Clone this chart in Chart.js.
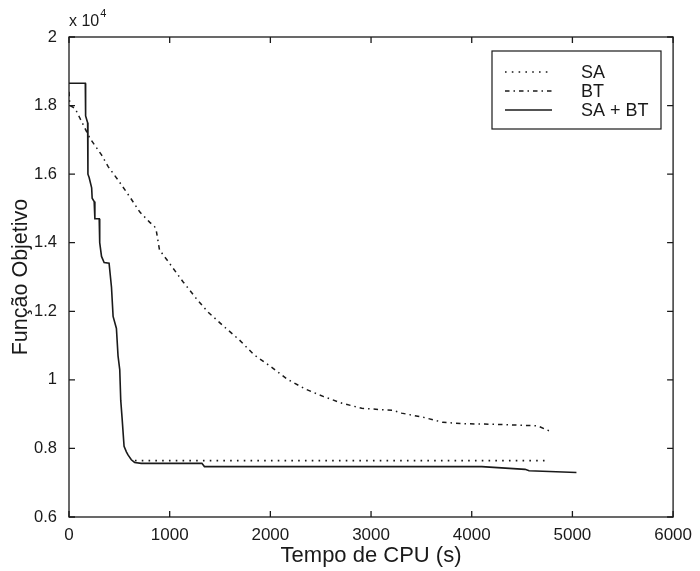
<!DOCTYPE html>
<html><head><meta charset="utf-8">
<script src="https://cdn.jsdelivr.net/npm/chart.js@4.4.0/dist/chart.umd.min.js"></script>
<style>html,body{margin:0;padding:0;background:#fff}#wrap{width:700px;height:571px}</style>
</head><body><div id="wrap"><canvas id="c" width="700" height="571"></canvas></div>
<script>
// ---- data (CPU time in s, objective value) ----
const saTime   = [655, 4740];
const saValue  = [7645, 7645];

const btTime  = [0, 8, 60, 109, 207, 323, 389, 487, 603, 702, 800, 850, 866, 899, 998, 1130, 1262, 1376, 1541, 1690, 1838, 2003, 2167, 2348, 2530, 2711, 2908, 3007, 3221, 3303, 3518, 3715, 3930, 4127, 4358, 4555, 4654, 4770];
const btValue = [18400, 18000, 17920, 17630, 17050, 16560, 16220, 15830, 15340, 14900, 14600, 14470, 14370, 13790, 13400, 12870, 12380, 11990, 11550, 11170, 10730, 10390, 10020, 9730, 9510, 9320, 9170, 9150, 9110, 9030, 8910, 8760, 8720, 8710, 8690, 8670, 8660, 8510];

const sabtTime  = [0, 162, 165, 185, 188, 200, 225, 230, 250, 257, 300, 305, 323, 349, 398, 422, 438, 471, 487, 504, 514, 527, 547, 570, 586, 619, 652, 718, 1320, 1345, 4100, 4530, 4570, 5040];
const sabtValue = [18650, 18650, 17700, 17500, 16000, 15900, 15600, 15300, 15200, 14700, 14700, 14000, 13600, 13420, 13400, 12700, 11850, 11500, 10700, 10300, 9400, 8900, 8060, 7900, 7810, 7670, 7590, 7565, 7565, 7470, 7470, 7390, 7350, 7300];

const seriesNames = ['SA', 'BT', 'SA + BT'];
const xTitle = 'Tempo de CPU (s)';
const yTitle = 'Função Objetivo';
const yScaleFactor = 10000;

const pts = (t, v) => t.map((x, i) => ({x: x, y: v[i]}));
const FONT = '"Liberation Sans", Arial, Helvetica, sans-serif';
const INK = '#1a1a1a';

const framePlugin = {
  id: 'frame',
  afterDraw(chart) {
    const {ctx, chartArea: a, scales} = chart;
    ctx.save();
    ctx.strokeStyle = INK;
    ctx.lineWidth = 1.3;
    ctx.strokeRect(a.left, a.top, a.right - a.left, a.bottom - a.top);
    const L = 6;
    ctx.beginPath();
    scales.x.ticks.forEach(t => {
      const px = scales.x.getPixelForValue(t.value);
      ctx.moveTo(px, a.bottom); ctx.lineTo(px, a.bottom - L);
      ctx.moveTo(px, a.top); ctx.lineTo(px, a.top + L);
    });
    scales.y.ticks.forEach(t => {
      const py = scales.y.getPixelForValue(t.value);
      ctx.moveTo(a.left, py); ctx.lineTo(a.left + L, py);
      ctx.moveTo(a.right, py); ctx.lineTo(a.right - L, py);
    });
    ctx.stroke();
    // multiplier
    ctx.fillStyle = INK;
    ctx.textBaseline = 'alphabetic';
    ctx.textAlign = 'left';
    ctx.font = '16px ' + FONT;
    ctx.fillText('x 10', a.left, 26);
    const w = ctx.measureText('x 10').width;
    ctx.font = '11px ' + FONT;
    ctx.fillText('4', a.left + w + 1, 17);
    // legend
    const bx = 492, by = 51, bw = 169, bh = 78;
    ctx.fillStyle = '#fff';
    ctx.fillRect(bx, by, bw, bh);
    ctx.lineWidth = 1.2;
    ctx.strokeStyle = INK;
    ctx.strokeRect(bx, by, bw, bh);
    const rows = [72, 91, 110];
    chart.data.datasets.forEach((ds, i) => {
      ctx.save();
      ctx.strokeStyle = ds.borderColor;
      ctx.lineWidth = ds.borderWidth;
      ctx.setLineDash(ds.borderDash || []);
      ctx.beginPath();
      ctx.moveTo(505, rows[i]); ctx.lineTo(552, rows[i]);
      ctx.stroke();
      ctx.restore();
      ctx.fillStyle = INK;
      ctx.font = '18px ' + FONT;
      ctx.textBaseline = 'middle';
      ctx.fillText(ds.label, 581, rows[i] + 1);
    });
    ctx.restore();
  }
};

new Chart(document.getElementById('c'), {
  type: 'line',
  data: {
    datasets: [
      {label: seriesNames[0], data: pts(saTime, saValue), borderColor: INK, borderWidth: 1.6, borderDash: [1.6, 5.2], pointRadius: 0, tension: 0},
      {label: seriesNames[1], data: pts(btTime, btValue), borderColor: INK, borderWidth: 1.5, borderDash: [4.5, 4, 1.5, 4], pointRadius: 0, tension: 0},
      {label: seriesNames[2], data: pts(sabtTime, sabtValue), borderColor: INK, borderWidth: 1.6, pointRadius: 0, tension: 0}
    ]
  },
  options: {
    responsive: false,
    animation: false,
    devicePixelRatio: 1,
    layout: {padding: {top: 37, right: 24, left: 0, bottom: 0}},
    plugins: {legend: {display: false}, tooltip: {enabled: false}},
    scales: {
      x: {
        type: 'linear', min: 0, max: 6000,
        ticks: {stepSize: 1000, color: INK, font: {family: FONT, size: 17}, padding: 8, maxRotation: 0,
          callback: v => String(v)},
        grid: {display: false, drawTicks: false},
        border: {display: false},
        title: {display: true, text: xTitle, color: INK, font: {family: FONT, size: 22}, padding: {top: 0, bottom: 2}},
        afterFit(s) { s.height = 54; }
      },
      y: {
        type: 'linear', min: 6000, max: 20000,
        ticks: {stepSize: 2000, color: INK, font: {family: FONT, size: 16.5}, padding: 12,
          callback: v => String(Math.round(v / yScaleFactor * 10) / 10)},
        grid: {display: false, drawTicks: false},
        border: {display: false},
        title: {display: true, text: yTitle, color: INK, font: {family: FONT, size: 21.5}, padding: {top: 8, bottom: 0}},
        afterFit(s) { s.width = 69; }
      }
    }
  },
  plugins: [framePlugin]
});
</script>
</body></html>
